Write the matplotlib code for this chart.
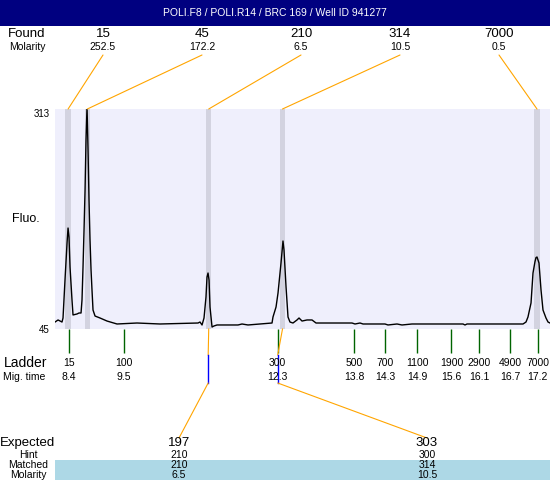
import numpy as np
import matplotlib
matplotlib.use("Agg")
import matplotlib.pyplot as plt
from matplotlib.patches import Rectangle, ConnectionPatch

title = "POLI.F8 / POLI.R14 / BRC 169 / Well ID 941277"

# electropherogram trace (migration time, fluorescence)
mig_time = [8.165, 8.222, 8.296, 8.315, 8.352, 8.390, 8.409, 8.427, 8.446, 8.483,
            8.502, 8.577, 8.614, 8.652, 8.670, 8.689, 8.708, 8.727, 8.745, 8.764,
            8.783, 8.801, 8.820, 8.839, 8.857, 8.876, 8.914, 9.007, 9.138, 9.325,
            9.699, 10.129, 10.840, 10.877, 10.915, 10.952, 10.989, 11.008, 11.027, 11.046,
            11.064, 11.102, 11.139, 11.195, 11.588, 11.663, 11.775, 12.224, 12.242, 12.299,
            12.336, 12.392, 12.429, 12.448, 12.486, 12.523, 12.560, 12.616, 12.691, 12.729,
            12.785, 12.878, 12.972, 13.047, 13.626, 13.720, 13.776, 13.870, 13.926, 14.337,
            14.393, 14.562, 14.655, 14.842, 15.796, 15.833, 15.871, 16.918, 16.974, 17.011,
            17.068, 17.105, 17.142, 17.161, 17.180, 17.217, 17.255, 17.292, 17.348, 17.386,
            17.423]
fluo = [53.5, 56.0, 53.5, 58.4, 104.7, 149.7, 168.0, 157.1, 120.5, 80.3,
        62.1, 63.3, 64.5, 64.5, 80.3, 120.5, 165.6, 214.3, 275.2, 316.0,
        263.0, 202.1, 153.4, 116.9, 92.5, 68.1, 60.8, 58.4, 54.7, 51.1,
        52.3, 51.1, 52.3, 53.5, 49.9, 58.4, 84.0, 108.3, 113.2, 104.7,
        71.8, 47.4, 48.7, 49.9, 49.9, 51.1, 49.9, 52.3, 59.6, 71.8,
        88.8, 125.4, 152.2, 141.2, 96.2, 59.6, 53.5, 52.3, 56.0, 58.4,
        54.7, 56.0, 56.0, 52.3, 52.3, 52.3, 51.1, 52.3, 51.1, 51.1,
        49.9, 51.1, 49.9, 51.1, 51.1, 49.9, 51.1, 51.1, 53.5, 59.6,
        76.7, 113.2, 127.0, 132.0, 132.7, 125.4, 92.5, 68.1, 58.4, 53.5,
        52.3]

found_size = [15, 45, 210, 314, 7000]
found_molarity = ["252.5", "172.2", "6.5", "10.5", "0.5"]
found_time = [8.41, 8.77, 11.04, 12.42, 17.18]

ladder_size = [15, 100, 300, 500, 700, 1100, 1900, 2900, 4900, 7000]
ladder_time = [8.42, 9.46, 12.33, 13.76, 14.34, 14.94, 15.58, 16.10, 16.68, 17.19]

expected_size = [197, 303]
hint_size = [210, 300]
hint_time = [11.03, 12.33]
matched_size = [210, 314]
matched_time = [11.04, 12.42]
matched_molarity = ["6.5", "10.5"]

y_lo, y_hi = 45, 313
t_lo, t_hi = 8.165, 17.423

W, H = 550, 480
PLOT_L, PLOT_R, PLOT_T, PLOT_B = 55, 550, 109, 329
ORANGE, GREEN, BLUE = "#FFA500", "#006400", "#0000FF"


def fx(px):
    return px / W


def fy(py):
    return 1 - py / H


def ya(py):
    # pixel row -> axes fraction of the trace panel
    return (PLOT_B - py) / (PLOT_B - PLOT_T)


plt.rcParams["font.family"] = ["Liberation Sans", "DejaVu Sans"]
fig = plt.figure(figsize=(W / 100, H / 100), dpi=100)

ax = fig.add_axes([fx(PLOT_L), fy(PLOT_B), fx(PLOT_R) - fx(PLOT_L), (PLOT_B - PLOT_T) / H])
ax.set_facecolor("#EFEFFC")
ax.set_xlim(t_lo, t_hi)
ax.set_ylim(y_lo, y_hi)
for s in ax.spines.values():
    s.set_visible(False)
ax.set_xticks([])
ax.set_yticks([y_lo, y_hi])
ax.tick_params(axis="y", length=0, pad=4, labelsize=7)
ax.get_yticklabels()[1].set_va("top")

for t in found_time:
    ax.axvspan(t - 0.05, t + 0.05, color="#D3D3E0", lw=0)
ax.plot(mig_time, fluo, color="black", lw=1.0)

xt = ax.get_xaxis_transform()

# title bar
fig.add_artist(Rectangle((0, fy(26)), 1, 26 / H, transform=fig.transFigure,
                         color="#000080", lw=0))
fig.text(0.5, fy(13), title, color="white", ha="center", va="center", fontsize=7.5)

# found peaks
fig.text(fx(27), fy(34), "Found", ha="center", va="center", fontsize=9.5)
fig.text(fx(27), fy(47), "Molarity", ha="center", va="center", fontsize=7.5)
found_x = np.linspace(103, 499, len(found_size))
for x, s, m, t in zip(found_x, found_size, found_molarity, found_time):
    fig.text(fx(x), fy(34), str(s), ha="center", va="center", fontsize=9.5)
    fig.text(fx(x), fy(47), m, ha="center", va="center", fontsize=7.5)
    fig.add_artist(ConnectionPatch(xyA=(fx(x), fy(55)), coordsA=fig.transFigure,
                                   xyB=(t, 1), coordsB=xt, color=ORANGE, lw=0.8))

fig.text(fx(26), fy(219), "Fluo.", ha="center", va="center", fontsize=9)

# ladder
ax.vlines(ladder_time, ya(353), 0, transform=xt, colors=GREEN, lw=1, clip_on=False)
fig.text(fx(4), fy(363), "Ladder", ha="left", va="center", fontsize=10)
fig.text(fx(3), fy(377), "Mig. time", ha="left", va="center", fontsize=7.5)
for s, t in zip(ladder_size, ladder_time):
    ax.text(t, ya(363), str(s), transform=xt, ha="center", va="center", fontsize=7.5)
    ax.text(t, ya(377), f"{t:.1f}", transform=xt, ha="center", va="center", fontsize=7.5)

# expected fragments
exp_x = [179, 427]
fig.add_artist(Rectangle((fx(55), 0), 1 - fx(55), 20 / H, transform=fig.transFigure,
                         color="#ADD8E6", lw=0))
fig.text(fx(0), fy(443), "Expected", ha="left", va="center", fontsize=9.5)
fig.text(fx(28), fy(455), "Hint", ha="center", va="center", fontsize=7.5)
fig.text(fx(28), fy(465), "Matched", ha="center", va="center", fontsize=7.5)
fig.text(fx(28), fy(475), "Molarity", ha="center", va="center", fontsize=7.5)
for x, e, h, m, mm, ht, mt in zip(exp_x, expected_size, hint_size, matched_size,
                                  matched_molarity, hint_time, matched_time):
    fig.text(fx(x), fy(443), str(e), ha="center", va="center", fontsize=9.5)
    fig.text(fx(x), fy(455), str(h), ha="center", va="center", fontsize=7.5)
    fig.text(fx(x), fy(465), str(m), ha="center", va="center", fontsize=7.5)
    fig.text(fx(x), fy(475), mm, ha="center", va="center", fontsize=7.5)
    ax.plot([mt, ht], [0, ya(355)], transform=xt, color=ORANGE, lw=0.8, clip_on=False)
    ax.plot([ht, ht], [ya(355), ya(383)], transform=xt, color=BLUE, lw=1, clip_on=False)
    fig.add_artist(ConnectionPatch(xyA=(ht, ya(383)), coordsA=xt,
                                   xyB=(fx(x), fy(438)), coordsB=fig.transFigure,
                                   color=ORANGE, lw=0.8))

fig.savefig("out.png", dpi=100)
